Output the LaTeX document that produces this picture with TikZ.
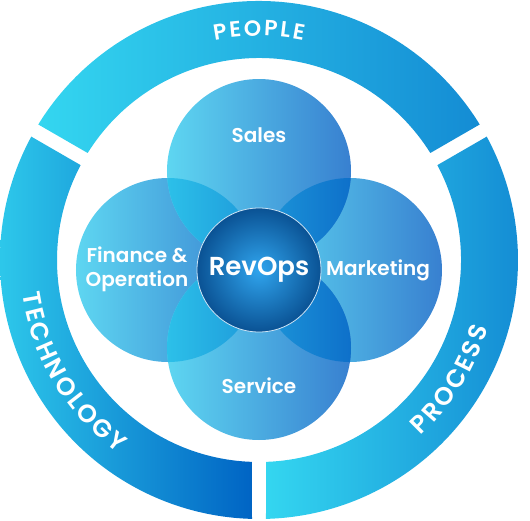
\documentclass[tikz,border=0pt]{standalone}
\usepackage{fontspec}
\setmainfont{Poppins}[UprightFont={* SemiBold},BoldFont={* SemiBold}]
\usetikzlibrary{calc,decorations.text}

\definecolor{ringCyan}{RGB}{52,214,240}
\definecolor{ringBlue}{RGB}{20,140,212}
\definecolor{ringDark}{RGB}{0,100,196}
\definecolor{petalLeft}{RGB}{94,214,241}
\definecolor{petalRight}{RGB}{56,128,208}
\definecolor{lensLeft}{RGB}{44,192,233}
\definecolor{lensRight}{RGB}{14,112,202}
\definecolor{hubInner}{RGB}{48,165,238}
\definecolor{hubOuter}{RGB}{10,82,148}
\definecolor{hubRim}{RGB}{205,228,245}

%% extra room after a letter on the ring
\newcommand{\tk}{\kern2.4pt}

\begin{document}
\begin{tikzpicture}[x=1pt,y=1pt,
  petal/.style={circle,minimum size=184pt,inner sep=0pt,
    left color=petalLeft,right color=petalRight},
  tag/.style={text=white,align=center,font=\fontsize{20}{24}\selectfont}]
  \useasboundingbox (-259,-260) rectangle (271,260);
  \coordinate (O) at (0,0);

  %% Outer ring: three pieces with a gap between them
  \foreach \a/\rc in {30/ringBlue,150/ringDark,270/ringBlue}
  {
    \shade[left color=ringCyan,right color=\rc]
      (\a+1.55:259) arc[start angle=\a+1.55,end angle=\a+118.45,radius=259]
      -- (\a+118.01:202) arc[start angle=\a+118.01,end angle=\a+1.99,radius=202]
      -- cycle;
  }

  %% Ring words, set along the arcs
  \path[decorate,decoration={text along path,text align=center,
    text={|\fontsize{22}{22}\selectfont\color{white}|{P\tk}{E\tk}{O\tk}{P\tk}{L\tk}E}}]
    (120:224) arc[start angle=120,end angle=60,radius=224];
  \path[decorate,decoration={text along path,text align=center,
    text={|\fontsize{25}{25}\selectfont\color{white}|{T\tk}{E\tk}{C\tk}{H\tk}{N\tk}{O\tk}{L\tk}{O\tk}{G\tk}Y}}]
    (181:239) arc[start angle=181,end angle=241,radius=239];
  \path[decorate,decoration={text along path,text align=center,
    text={|\fontsize{25}{25}\selectfont\color{white}|{P\tk}{R\tk}{O\tk}{C\tk}{E\tk}{S\tk}S}}]
    (298:239) arc[start angle=298,end angle=358,radius=239];

  %% The four overlapping circles
  \node[petal] (FIN) at (-91,-10) {};
  \node[petal] (MKT) at (91,-10) {};
  \node[petal] (SAL) at (0,89) {};
  \node[petal] (SRV) at (0,-88) {};

  %% Where two circles overlap
  \foreach \p/\q in {SAL/FIN,SAL/MKT,SRV/FIN,SRV/MKT}
  {
    \begin{scope}
      \clip (\p.center) circle[radius=92];
      \clip (\q.center) circle[radius=92];
      \shade[left color=lensLeft,right color=lensRight] (-92,-200) rectangle (92,200);
    \end{scope}
  }

  \node[circle,minimum size=124pt,inner sep=0pt,inner color=hubInner,
    outer color=hubOuter,draw=hubRim,line width=0.8pt] (HUB) at (0,-10) {};

  %% Labels
  \node[tag,anchor=base] (SALtxt) at ($(SAL)+(0,29)$) {Sales};
  \node[tag,anchor=base] (SRVtxt) at ($(SRV)+(0,-45)$) {Service};
  \node[tag,anchor=base] (MKTtxt) at ($(MKT)+(28,-5)$) {Marketing};
  \node[tag] (FINtxt) at ($(FIN)+(-31,1)$) {Finance \&\\Operation};
  \node[tag,anchor=base,font=\fontsize{26}{30}\selectfont]
    (HUBtxt) at ($(HUB)+(0,-5)$) {RevOps};
\end{tikzpicture}
\end{document}
